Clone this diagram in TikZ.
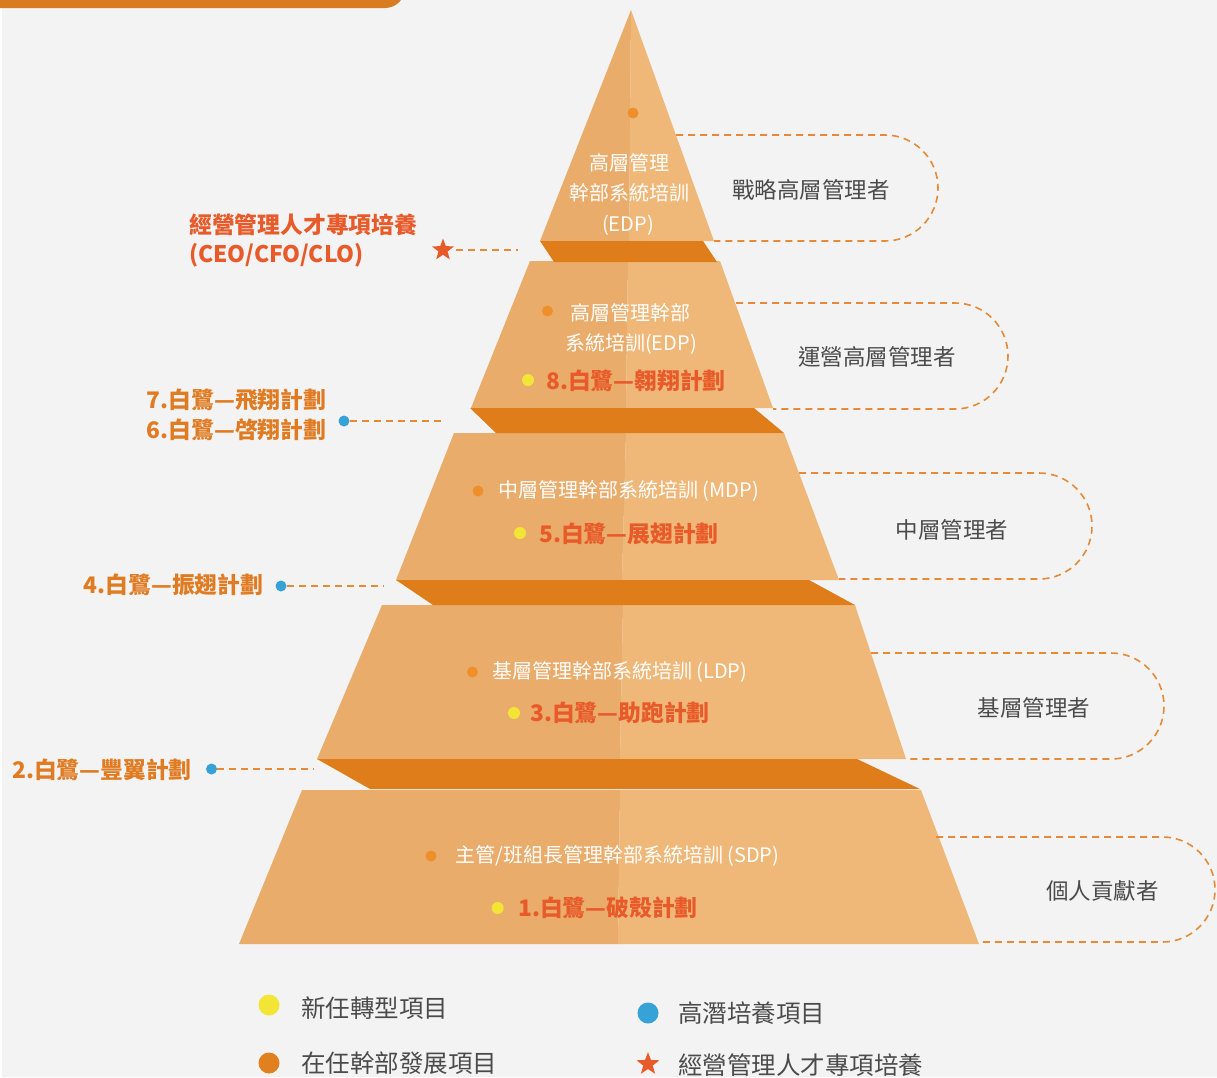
\documentclass[tikz,border=0pt]{standalone}
\usepackage{fontspec}
\setmainfont{Noto Sans CJK TC}
\usetikzlibrary{shapes.geometric}
\definecolor{bgc}{HTML}{F2F3F2}
\definecolor{barc}{HTML}{D97B1F}
\definecolor{tierl}{HTML}{E9AC6B}
\definecolor{tierr}{HTML}{EFB879}
\definecolor{bandc}{HTML}{E07D1B}
\definecolor{dashc}{HTML}{E68A38}
\definecolor{dotor}{HTML}{EE8F2B}
\definecolor{dotye}{HTML}{F3E535}
\definecolor{dotbl}{HTML}{36A2D6}
\definecolor{redtxt}{HTML}{E85A2A}
\definecolor{ortxt}{HTML}{E07B22}
\definecolor{graytxt}{HTML}{4B4B4B}
\definecolor{legor}{HTML}{E0801E}
\begin{document}
\begin{tikzpicture}[x=1pt,y=-1pt,
  wtxt/.style={text=white,font=\fontsize{20}{24}\selectfont,inner sep=0pt},
  redlab/.style={text=redtxt,font=\fontsize{22.8}{26}\selectfont\bfseries,inner sep=0pt},
  orlab/.style={text=ortxt,font=\fontsize{22.8}{26}\selectfont\bfseries,inner sep=0pt},
  rolelab/.style={text=graytxt,font=\fontsize{22.5}{26}\selectfont,inner sep=0pt},
  leglab/.style={text=graytxt,font=\fontsize{24.5}{28}\selectfont,inner sep=0pt,anchor=west},
  sdot/.style={circle,inner sep=0pt,minimum size=11pt},
  ldot/.style={circle,inner sep=0pt,minimum size=21pt},
  starshape/.style={star,star points=5,star point ratio=2.4,fill=redtxt,inner sep=0pt},
  dline/.style={draw=dashc,line width=1.6pt,dash pattern=on 7pt off 5pt},
]
\useasboundingbox (0,0) rectangle (1217,1077);
\begin{scope}
\clip (0,0) rectangle (1217,1077);
\fill[bgc] (0,0) rectangle (1217,1077);
\fill[white] (0,0) rectangle (2,1077);
\fill[barc,rounded corners=20pt] (-40,-40) rectangle (405,8);

% ---- tiers ----
\fill[tierl] (631,10) -- (629,241) -- (540,241) -- cycle;
\fill[tierr] (631,10) -- (714,241) -- (629,241) -- cycle;
\fill[tierl] (530,261) -- (628,261) -- (626,408) -- (471,408) -- cycle;
\fill[tierr] (628,261) -- (720,261) -- (773,408) -- (626,408) -- cycle;
\fill[tierl] (454,433) -- (626,433) -- (622,580) -- (396,580) -- cycle;
\fill[tierr] (626,433) -- (784,433) -- (839,580) -- (622,580) -- cycle;
\fill[tierl] (382,605) -- (623,605) -- (620,759) -- (317,759) -- cycle;
\fill[tierr] (623,605) -- (855,605) -- (906,759) -- (620,759) -- cycle;
\fill[tierl] (302,790) -- (620,790) -- (618,944) -- (239,944) -- cycle;
\fill[tierr] (620,790) -- (921,790) -- (979,944) -- (618,944) -- cycle;

% ---- bands ----
\fill[bandc] (540,241) -- (703,241) -- (717,262) -- (554,262) -- cycle;
\fill[bandc] (470,408) -- (754,408) -- (784,433) -- (496,433) -- cycle;
\fill[bandc] (396,580) -- (809,580) -- (855,605) -- (433,605) -- cycle;
\fill[bandc] (317,759) -- (857,759) -- (920,789) -- (370,789) -- cycle;
\end{scope}

% ---- tier 1 content ----
\node[sdot,fill=dotor] (o1) at (633,113) {};
\node[wtxt] (t1a) at (629,163) {高層管理};
\node[wtxt] (t1b) at (629,193) {幹部系統培訓};
\node[wtxt] (t1c) at (628,225) {(EDP)};
\node[rolelab] (r1) at (811,190) {戰略高層管理者};
\coordinate (s1a) at (676,135);
\coordinate (s1b) at (714,241);
\draw[dline,rounded corners=53pt] (s1a) -- (938,135) -- (938,241) -- (s1b);

% star label
\node[starshape,minimum size=23pt] (st1) at (443,250) {};
\node[redlab,anchor=west] (ceo1) at (189,225) {經營管理人才專項培養};
\node[redlab,anchor=west] (ceo2) at (189,255) {(CEO/CFO/CLO)};
\coordinate (e1) at (518,250);
\draw[dline] ([xshift=6pt]st1.east) -- (e1);

% ---- tier 2 content ----
\node[sdot,fill=dotor] (o2) at (547.5,311) {};
\node[wtxt] (t2a) at (630,313) {高層管理幹部};
\node[wtxt] (t2b) at (631,344) {系統培訓(EDP)};
\node[sdot,fill=dotye,minimum size=12pt] (y8) at (528,380) {};
\node[redlab] (p8) at (636,381) {8.白鷺—翱翔計劃};
\node[rolelab] (r2) at (877,357) {運營高層管理者};
\coordinate (s2a) at (736,303);
\coordinate (s2b) at (773,409);
\draw[dline,rounded corners=53pt] (s2a) -- (1008,303) -- (1008,409) -- (s2b);

% left labels 7 / 6
\node[orlab] (p7) at (236.5,400) {7.白鷺—飛翔計劃};
\node[orlab] (p6) at (236.5,430) {6.白鷺—啓翔計劃};
\node[sdot,fill=dotbl] (b76) at (344,421) {};
\coordinate (e76) at (442,421);
\draw[dline] (b76.east) -- (e76);

% ---- tier 3 content ----
\node[sdot,fill=dotor] (o3) at (478,491) {};
\node[wtxt] (t3a) at (629,491) {中層管理幹部系統培訓\hspace{4pt}(MDP)};
\node[sdot,fill=dotye,minimum size=12pt] (y5) at (520,533) {};
\node[redlab] (p5) at (629,534) {5.白鷺—展翅計劃};
\node[rolelab] (r3) at (952,530) {中層管理者};
\coordinate (s3a) at (799,473);
\coordinate (s3b) at (839,579);
\draw[dline,rounded corners=53pt] (s3a) -- (1092,473) -- (1092,579) -- (s3b);

% left label 4
\node[orlab] (p4) at (173.5,585) {4.白鷺—振翅計劃};
\node[sdot,fill=dotbl] (b4) at (281,586) {};
\coordinate (e4) at (383,586);
\draw[dline] (b4.east) -- (e4);

% ---- tier 4 content ----
\node[sdot,fill=dotor] (o4) at (472.5,672) {};
\node[wtxt] (t4a) at (620,672) {基層管理幹部系統培訓\hspace{4pt}(LDP)};
\node[sdot,fill=dotye,minimum size=12pt] (y3) at (514,713) {};
\node[redlab] (p3) at (620,713) {3.白鷺—助跑計劃};
\node[rolelab] (r4) at (1034,708) {基層管理者};
\coordinate (s4a) at (871,653);
\coordinate (s4b) at (906,759);
\draw[dline,rounded corners=53pt] (s4a) -- (1164,653) -- (1164,759) -- (s4b);

% left label 2
\node[orlab] (p2) at (102,770) {2.白鷺—豐翼計劃};
\node[sdot,fill=dotbl] (b2) at (211.5,769) {};
\coordinate (e2) at (314,769);
\draw[dline] (b2.east) -- (e2);

% ---- tier 5 content ----
\node[sdot,fill=dotor] (o5) at (431,856) {};
\node[wtxt] (t5a) at (617.5,856) {主管/班組長管理幹部系統培訓\hspace{4pt}(SDP)};
\node[sdot,fill=dotye,minimum size=12pt] (y1) at (497.6,908) {};
\node[redlab] (p1) at (608,908) {1.白鷺—破殼計劃};
\node[rolelab] (r5) at (1102.5,891) {個人貢獻者};
\coordinate (s5a) at (936,837);
\coordinate (s5b) at (978,942);
\draw[dline,rounded corners=52.5pt] (s5a) -- (1215,837) -- (1215,942) -- (s5b);

% ---- legend ----
\node[ldot,fill=dotye] (ly) at (269,1005) {};
\node[leglab] (lyt) at (301,1008) {新任轉型項目};
\node[ldot,fill=legor] (lo) at (269,1063) {};
\node[leglab] (lot) at (301,1063) {在任幹部發展項目};
\node[ldot,fill=dotbl] (lb) at (648,1013) {};
\node[leglab] (lbt) at (678,1013) {高潛培養項目};
\node[starshape,minimum size=24pt] (ls) at (648,1064) {};
\node[leglab] (lst) at (678,1065) {經營管理人才專項培養};
\end{tikzpicture}
\end{document}
